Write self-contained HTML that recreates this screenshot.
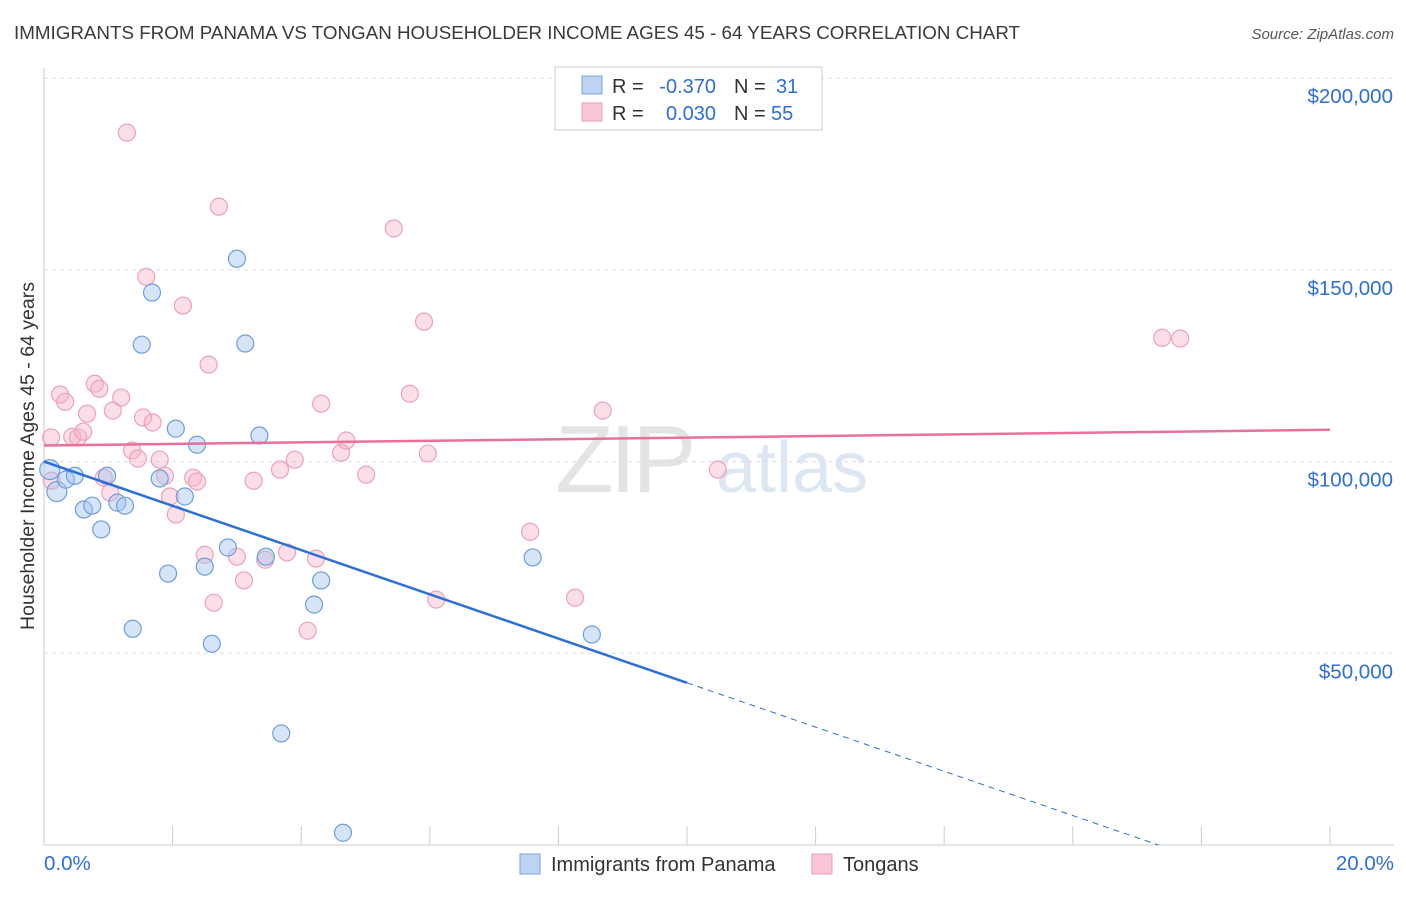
<!DOCTYPE html>
<html><head><meta charset="utf-8">
<style>
body{margin:0;background:#fff;font-family:"Liberation Sans",sans-serif;}
svg text{font-family:"Liberation Sans",sans-serif;}
</style></head>
<body>
<svg id="chart" width="1406" height="892" viewBox="0 0 1406 892" xmlns="http://www.w3.org/2000/svg">
<text x="14" y="39" font-size="18.8" fill="#3a3a3a">IMMIGRANTS FROM PANAMA VS TONGAN HOUSEHOLDER INCOME AGES 45 - 64 YEARS CORRELATION CHART</text>
<text x="1394" y="39" font-size="15" fill="#555" font-style="italic" text-anchor="end">Source: ZipAtlas.com</text>
<text x="555" y="492" font-size="96" fill="#e4e4e4" font-family="Liberation Serif" letter-spacing="-4">ZIP</text>
<text x="716" y="492" font-size="72" fill="#dde7f4">atlas</text>
<g id="grid"></g>
<g id="axes"></g>
<g id="marks"></g>
<text transform="translate(34,456) rotate(-90)" font-size="19.5" fill="#333" text-anchor="middle">Householder Income Ages 45 - 64 years</text>
<g>
<rect x="555" y="67" width="267" height="63" fill="#fff" stroke="#ccc"/>
<rect x="582" y="76" width="20" height="18" fill="#bcd3f2" stroke="#7aa6e0"/>
<rect x="582" y="103" width="20" height="18" fill="#f9c7d6" stroke="#ee9ab5"/>
<text x="612" y="93" font-size="20" fill="#333">R =</text>
<text x="716" y="93" font-size="20" fill="#2e6fd8" text-anchor="end">-0.370</text>
<text x="734" y="93" font-size="20" fill="#333">N =</text>
<text x="776" y="93" font-size="20" fill="#2e6fd8">31</text>
<text x="612" y="120" font-size="20" fill="#333">R =</text>
<text x="716" y="120" font-size="20" fill="#2e6fd8" text-anchor="end">0.030</text>
<text x="734" y="120" font-size="20" fill="#333">N =</text>
<text x="771" y="120" font-size="20" fill="#2e6fd8">55</text>
</g>
<g>
<rect x="520" y="854" width="20" height="20" fill="#bcd3f2" stroke="#7aa6e0"/>
<text x="551" y="871" font-size="20" fill="#333">Immigrants from Panama</text>
<rect x="812" y="854" width="20" height="20" fill="#f9c7d6" stroke="#ee9ab5"/>
<text x="843" y="871" font-size="20" fill="#333">Tongans</text>
</g>
</svg>
<script>
const yTicks=[50000,100000,150000,200000];
const yTickLabels=["$50,000","$100,000","$150,000","$200,000"];
const xTicks=[0,2,4,6,8,10,12,14,16,18,20];
const blueX=[0.09,0.2,0.34,0.48,0.62,0.75,0.89,0.98,1.14,1.26,1.38,1.52,1.68,1.80,1.93,2.05,2.19,2.38,2.5,2.61,2.86,3.0,3.13,3.35,3.45,3.69,4.2,4.31,4.65,7.6,8.52];
const blueY=[97900,92200,95300,96300,87500,88500,82300,96300,89300,88500,56400,130500,144100,95600,70800,108600,90900,104400,72600,52500,77600,152900,130800,106800,75200,29100,62700,69000,3200,75000,54900];
const pinkX=[0.11,0.12,0.25,0.33,0.44,0.53,0.61,0.67,0.79,0.86,0.93,1.03,1.07,1.2,1.29,1.37,1.46,1.54,1.59,1.69,1.8,1.88,1.96,2.05,2.16,2.32,2.38,2.5,2.56,2.64,2.72,3.0,3.11,3.26,3.44,3.67,3.78,3.9,4.1,4.23,4.31,4.62,4.7,5.01,5.44,5.69,5.91,5.97,6.1,7.56,8.26,8.69,10.48,17.39,17.67];
const pinkY=[106300,95000,117500,115600,106500,106300,107800,112500,120300,119000,95800,91900,113300,116700,185800,102900,100800,111500,148200,110200,100500,96300,90900,86200,140700,95800,94800,75700,125300,63200,166500,75200,69000,95000,74400,97900,76300,100500,55900,74700,115100,102300,105500,96600,160800,117700,136500,102100,64000,81700,64500,113300,97900,132300,132100];
const blueLine=[[0,100000],[10,42300],[20,-15400]];
const pinkLine=[[0,104200],[20,108300]];
const NS="http://www.w3.org/2000/svg";
const X=p=>44+p*64.3;
const Y=v=>845-v*383.4/100000;
function mk(t,a,parent){const e=document.createElementNS(NS,t);for(const k in a)e.setAttribute(k,a[k]);parent.appendChild(e);return e;}
const grid=document.getElementById('grid'),axes=document.getElementById('axes'),marks=document.getElementById('marks');
yTicks.forEach((v,i)=>{
 const l=mk('line',{x1:44,x2:1394,y1:Y(v),y2:Y(v),stroke:'#ddd','stroke-dasharray':'4,4'},grid);
 
 
 const t=mk('text',{x:1393,y:Y(v)+25,'font-size':20.5,fill:'#2e6fd8','text-anchor':'end'},axes);
 t.textContent=yTickLabels[i];
 
 
});
const ax=mk('line',{x1:44,x2:44,y1:68,y2:845,stroke:'#ccc'},axes);


const bx=mk('line',{x1:44,x2:1394,y1:845,y2:845,stroke:'#ccc'},axes);


xTicks.forEach(p=>{
 const t=mk('line',{x1:X(p),x2:X(p),y1:826,y2:845,stroke:'#ccc'},axes);
 
 
});
const xl0=mk('text',{x:44,y:870,'font-size':20.5,fill:'#2e6fd8'},axes);xl0.textContent='0.0%';


const xl1=mk('text',{x:1394,y:870,'font-size':20.5,fill:'#2e6fd8','text-anchor':'end'},axes);xl1.textContent='20.0%';


pinkX.forEach((p,i)=>{
 const c=mk('circle',{cx:X(p),cy:Y(pinkY[i]),r:8.5,fill:'rgba(246,176,198,0.4)',stroke:'#eea2ba','stroke-width':1.2},marks);
 
 
});
blueX.forEach((p,i)=>{
 const c=mk('circle',{cx:X(p),cy:Y(blueY[i]),r:i<2?10:8.5,fill:'rgba(164,196,238,0.45)',stroke:'#6f9edc','stroke-width':1.2},marks);
 
 
});
const pl=mk('line',{x1:X(pinkLine[0][0]),y1:Y(pinkLine[0][1]),x2:X(pinkLine[1][0]),y2:Y(pinkLine[1][1]),stroke:'#e8709a','stroke-width':2.5},marks);


const b1=mk('line',{x1:X(blueLine[0][0]),y1:Y(blueLine[0][1]),x2:X(blueLine[1][0]),y2:Y(blueLine[1][1]),stroke:'#2e6fd8','stroke-width':2.5},marks);


const t=(0-blueLine[1][1])/(blueLine[2][1]-blueLine[1][1]);
const b2=mk('line',{x1:X(blueLine[1][0]),y1:Y(blueLine[1][1]),x2:X(blueLine[1][0]+t*(blueLine[2][0]-blueLine[1][0])),y2:Y(0),stroke:'#2e6fd8','stroke-width':1,'stroke-dasharray':'6,5'},marks);


</script>
</body></html>
